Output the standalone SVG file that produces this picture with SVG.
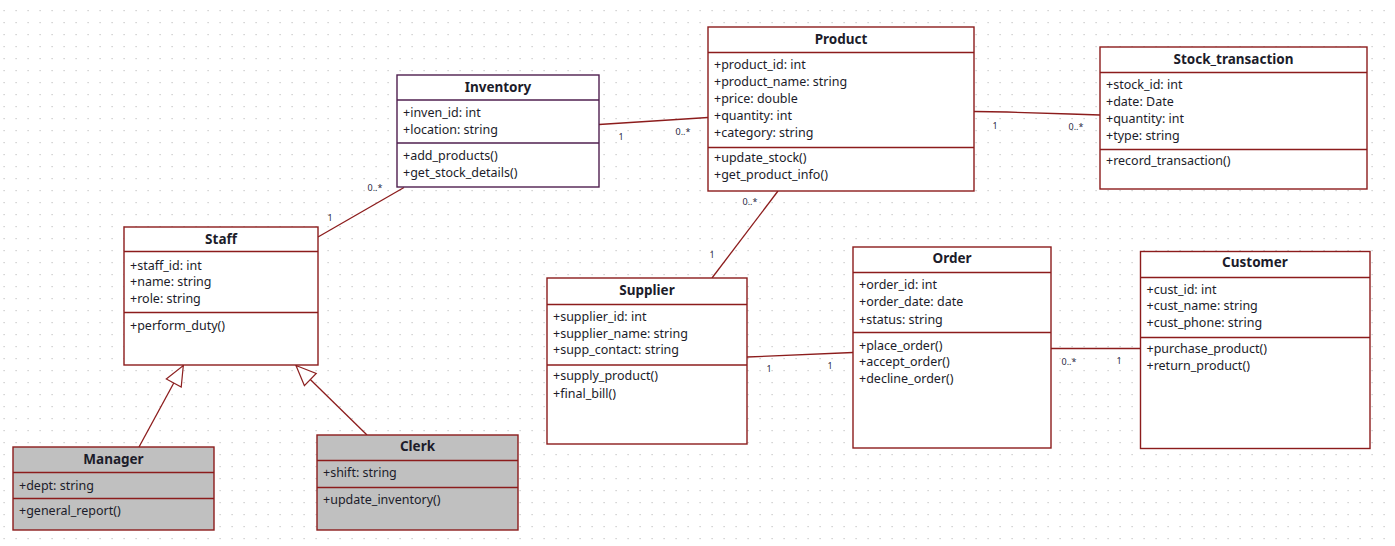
<svg xmlns="http://www.w3.org/2000/svg" width="1395" height="546" viewBox="0 0 1395 546">
<defs>
<pattern id="grid" x="0" y="0" width="12" height="12" patternUnits="userSpaceOnUse">
<rect x="3.5" y="10" width="1.2" height="1.2" fill="#c4c4c4"/>
</pattern>
<marker id="gen" markerUnits="userSpaceOnUse" markerWidth="24" markerHeight="20" refX="21" refY="9.5" orient="auto" viewBox="0 0 24 20">
<path d="M1,1 L21,9.5 L1,18 Z" fill="#ffffff" stroke="#8c2020" stroke-width="1.2"/>
</marker>
<style>
.box{fill:#ffffff;stroke:#8c1c1c;stroke-width:1.4}
.gray{fill:#c0c0c0}
.purple{stroke:#4f1f4f}
.div{stroke:#8c1c1c;stroke-width:1.4}
.divp{stroke:#4f1f4f;stroke-width:1.4}
.title{font-family:"Noto Sans","Open Sans",sans-serif;font-size:13.5px;font-weight:bold;fill:#1c1c2a;text-anchor:middle;dominant-baseline:central}
.t{font-family:"Noto Sans","Open Sans",sans-serif;font-size:12.5px;fill:#1c1c2a;dominant-baseline:central}
.lbl{font-family:"Noto Sans","Open Sans",sans-serif;font-size:9px;fill:#2a2a44;text-anchor:middle;dominant-baseline:central}
.conn{fill:none;stroke:#8c1c1c;stroke-width:1.3}
</style>
</defs>
<rect width="1395" height="546" fill="#ffffff"/>
<rect width="1395" height="546" fill="url(#grid)"/>

<g id="connectors">
<polyline class="conn" points="599,124.5 708,117.5"/>
<polyline class="conn" points="974,111.5 1007,112 1070,114 1100,115"/>
<polyline class="conn" points="318,237 404,187.5"/>
<polyline class="conn" points="778,191 712,278"/>
<polyline class="conn" points="747,357 853,352.5"/>
<polyline class="conn" points="1051,348.5 1140,348.5"/>
<polyline class="conn" points="139,447 183.3,365.5" marker-end="url(#gen)"/>
<polyline class="conn" points="367,435 296,365.5" marker-end="url(#gen)"/>
<text class="lbl" x="621" y="136">1</text>
<text class="lbl" x="683" y="131">0..*</text>
<text class="lbl" x="995" y="125">1</text>
<text class="lbl" x="1076" y="126">0..*</text>
<text class="lbl" x="330" y="217">1</text>
<text class="lbl" x="375" y="187">0..*</text>
<text class="lbl" x="750" y="201">0..*</text>
<text class="lbl" x="712" y="254">1</text>
<text class="lbl" x="769" y="368">1</text>
<text class="lbl" x="830" y="365">1</text>
<text class="lbl" x="1069" y="361">0..*</text>
<text class="lbl" x="1119" y="360">1</text>
</g>

<g id="inventory">
<rect class="box purple" x="397" y="75" width="202" height="112"/>
<line class="divp" x1="397" y1="100" x2="599" y2="100"/>
<line class="divp" x1="397" y1="143" x2="599" y2="143"/>
<text class="title" x="498" y="87">Inventory</text>
<text class="t" x="403" y="112">+inven_id: int</text>
<text class="t" x="403" y="129.5">+location: string</text>
<text class="t" x="403" y="155">+add_products()</text>
<text class="t" x="403" y="172">+get_stock_details()</text>
</g>

<g id="product">
<rect class="box" x="708" y="27" width="266" height="164"/>
<line class="div" x1="708" y1="52.5" x2="974" y2="52.5"/>
<line class="div" x1="708" y1="147.5" x2="974" y2="147.5"/>
<text class="title" x="841" y="38.5">Product</text>
<text class="t" x="714" y="64.3">+product_id: int</text>
<text class="t" x="714" y="81.5">+product_name: string</text>
<text class="t" x="714" y="98.5">+price: double</text>
<text class="t" x="714" y="115.3">+quantity: int</text>
<text class="t" x="714" y="132">+category: string</text>
<text class="t" x="714" y="157.3">+update_stock()</text>
<text class="t" x="714" y="174">+get_product_info()</text>
</g>

<g id="stock_transaction">
<rect class="box" x="1100" y="47" width="267" height="142"/>
<line class="div" x1="1100" y1="72.5" x2="1367" y2="72.5"/>
<line class="div" x1="1100" y1="149.5" x2="1367" y2="149.5"/>
<text class="title" x="1233.5" y="58.5">Stock_transaction</text>
<text class="t" x="1106" y="84.3">+stock_id: int</text>
<text class="t" x="1106" y="101">+date: Date</text>
<text class="t" x="1106" y="118.5">+quantity: int</text>
<text class="t" x="1106" y="135.3">+type: string</text>
<text class="t" x="1106" y="160.7">+record_transaction()</text>
</g>

<g id="staff">
<rect class="box" x="124" y="227" width="194" height="138"/>
<line class="div" x1="124" y1="251.5" x2="318" y2="251.5"/>
<line class="div" x1="124" y1="312.5" x2="318" y2="312.5"/>
<text class="title" x="221" y="238.5">Staff</text>
<text class="t" x="130" y="265">+staff_id: int</text>
<text class="t" x="130" y="281">+name: string</text>
<text class="t" x="130" y="298.3">+role: string</text>
<text class="t" x="130" y="325.7">+perform_duty()</text>
</g>

<g id="manager">
<rect class="box gray" x="13" y="447" width="201" height="83"/>
<line class="div" x1="13" y1="472.5" x2="214" y2="472.5"/>
<line class="div" x1="13" y1="498.5" x2="214" y2="498.5"/>
<text class="title" x="113.5" y="458.7">Manager</text>
<text class="t" x="19" y="485.5">+dept: string</text>
<text class="t" x="19" y="510.7">+general_report()</text>
</g>

<g id="clerk">
<rect class="box gray" x="317" y="435" width="201" height="95"/>
<line class="div" x1="317" y1="460.5" x2="518" y2="460.5"/>
<line class="div" x1="317" y1="487.5" x2="518" y2="487.5"/>
<text class="title" x="417.5" y="446">Clerk</text>
<text class="t" x="323" y="472.3">+shift: string</text>
<text class="t" x="323" y="499">+update_inventory()</text>
</g>

<g id="supplier">
<rect class="box" x="547" y="278" width="200" height="166"/>
<line class="div" x1="547" y1="304.5" x2="747" y2="304.5"/>
<line class="div" x1="547" y1="365" x2="747" y2="365"/>
<text class="title" x="647" y="290">Supplier</text>
<text class="t" x="553" y="316.7">+supplier_id: int</text>
<text class="t" x="553" y="333.5">+supplier_name: string</text>
<text class="t" x="553" y="349.5">+supp_contact: string</text>
<text class="t" x="553" y="375.7">+supply_product()</text>
<text class="t" x="553" y="393">+final_bill()</text>
</g>

<g id="order">
<rect class="box" x="853" y="247" width="198" height="201"/>
<line class="div" x1="853" y1="272.5" x2="1051" y2="272.5"/>
<line class="div" x1="853" y1="332.5" x2="1051" y2="332.5"/>
<text class="title" x="952" y="258.3">Order</text>
<text class="t" x="859" y="284">+order_id: int</text>
<text class="t" x="859" y="301.3">+order_date: date</text>
<text class="t" x="859" y="319">+status: string</text>
<text class="t" x="859" y="345">+place_order()</text>
<text class="t" x="859" y="361.7">+accept_order()</text>
<text class="t" x="859" y="378.3">+decline_order()</text>
</g>

<g id="customer">
<rect class="box" x="1140.5" y="251.5" width="229.5" height="197"/>
<line class="div" x1="1140.5" y1="277.5" x2="1370" y2="277.5"/>
<line class="div" x1="1140.5" y1="337.5" x2="1370" y2="337.5"/>
<text class="title" x="1255" y="262.3">Customer</text>
<text class="t" x="1146.5" y="289">+cust_id: int</text>
<text class="t" x="1146.5" y="305.5">+cust_name: string</text>
<text class="t" x="1146.5" y="322">+cust_phone: string</text>
<text class="t" x="1146.5" y="348.7">+purchase_product()</text>
<text class="t" x="1146.5" y="365.3">+return_product()</text>
</g>
</svg>
